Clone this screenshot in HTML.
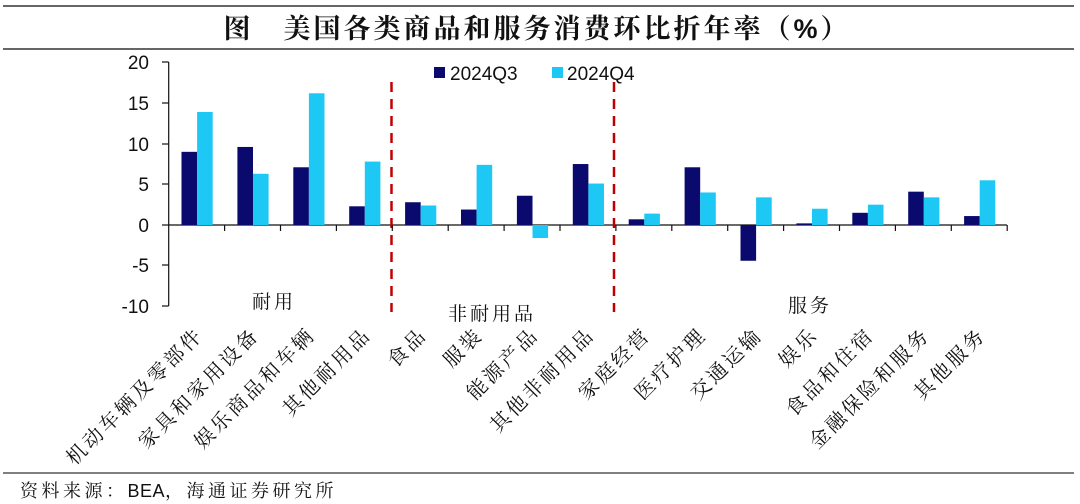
<!DOCTYPE html>
<html><head><meta charset="utf-8"><style>
html,body{margin:0;padding:0;background:#fff;width:1080px;height:504px;overflow:hidden}
svg{display:block}
.s{font-family:"Liberation Sans",sans-serif}
.c{font-family:"Noto Serif CJK SC","Liberation Serif",serif}
</style></head><body>
<svg width="1080" height="504" viewBox="0 0 1080 504">
<line x1="3" y1="6" x2="1074" y2="6" stroke="#333" stroke-width="1.5"/>
<line x1="3" y1="49" x2="1074" y2="49" stroke="#333" stroke-width="1.5"/>
<text x="537" y="38" text-anchor="middle" class="c" font-size="27" font-weight="bold" letter-spacing="3" fill="#111">图　美国各类商品和服务消费环比折年率（<tspan class="s">%</tspan>）</text>
<g class="s" font-size="19" fill="#111" text-anchor="end">
<text x="149" y="69">20</text><text x="149" y="110">15</text><text x="149" y="151">10</text>
<text x="149" y="191">5</text><text x="149" y="232">0</text><text x="149" y="272">-5</text><text x="149" y="313">-10</text>
</g>
<g stroke="#111" stroke-width="1.2">
<line x1="168.7" y1="62" x2="168.7" y2="306"/>
<line x1="162" y1="62" x2="168.7" y2="62"/><line x1="162" y1="103" x2="168.7" y2="103"/>
<line x1="162" y1="144" x2="168.7" y2="144"/><line x1="162" y1="184" x2="168.7" y2="184"/>
<line x1="162" y1="225" x2="168.7" y2="225"/><line x1="162" y1="265" x2="168.7" y2="265"/>
<line x1="162" y1="306" x2="168.7" y2="306"/>
<line x1="168.7" y1="225" x2="1007" y2="225"/>
</g>
<g id="bars"></g>
<g stroke="#c00000" stroke-width="2.5" stroke-dasharray="10,7">
<line x1="391.5" y1="82" x2="391.5" y2="312"/>
<line x1="614" y1="82" x2="614" y2="312"/>
</g>
<rect x="434" y="67" width="11" height="11" fill="#0a0a6e"/>
<text x="450" y="80" class="s" font-size="19" fill="#111">2024Q3</text>
<rect x="552" y="67" width="11" height="11" fill="#1ec8f5"/>
<text x="567" y="80" class="s" font-size="19" fill="#111">2024Q4</text>
<g class="c" font-size="19" letter-spacing="3" fill="#111" text-anchor="middle">
<text x="274" y="308">耐用</text>
<text x="492" y="320">非耐用品</text>
<text x="810" y="312">服务</text>
</g>
<g id="labels" class="c" font-size="20" letter-spacing="3" fill="#111" text-anchor="end"></g>
<line x1="3" y1="473" x2="1074" y2="473" stroke="#333" stroke-width="1.2"/>
<text x="20" y="497" class="c" font-size="18" letter-spacing="3.5" fill="#111">资料来源：<tspan class="s" letter-spacing="0.5">BEA</tspan>，海通证券研究所</text>
</svg>
<script>
var q3=[9.0,9.6,7.1,2.3,2.8,1.9,3.6,7.5,0.7,7.1,-4.4,0.2,1.5,4.1,1.1];
var q4=[13.9,6.3,16.2,7.8,2.4,7.4,-1.6,5.1,1.4,4.0,3.4,2.0,2.5,3.4,5.5];
var names=["机动车辆及零部件","家具和家用设备","娱乐商品和车辆","其他耐用品","食品","服装","能源产品","其他非耐用品","家庭经营","医疗护理","交通运输","娱乐","食品和住宿","金融保险和服务","其他服务"];
var ns="http://www.w3.org/2000/svg",b=document.getElementById("bars"),L=document.getElementById("labels"),ax=document.querySelector("svg");
var x0=168.7,w=55.9,u=8.13,z=225;
function r(x,v,c){var e=document.createElementNS(ns,"rect");var h=Math.abs(v)*u;e.setAttribute("x",x);e.setAttribute("width",15.6);e.setAttribute("y",v>=0?z-h:z);e.setAttribute("height",Math.max(h,0.8));e.setAttribute("fill",c);b.appendChild(e);}
for(var i=0;i<15;i++){var s=x0+i*w;r(s+12.8,q3[i],"#0a0a6e");r(s+28.4,q4[i],"#1ec8f5");
var t=document.createElementNS(ns,"line");var tx=x0+(i+1)*w;t.setAttribute("x1",tx);t.setAttribute("x2",tx);t.setAttribute("y1",225);t.setAttribute("y2",231);t.setAttribute("stroke","#111");t.setAttribute("stroke-width","1.2");ax.appendChild(t);
var cx=s+w/2+8,cy=336;var tt=document.createElementNS(ns,"text");tt.setAttribute("x",cx);tt.setAttribute("y",cy);tt.setAttribute("transform","rotate(-45 "+cx+" "+cy+")");tt.textContent=names[i];L.appendChild(tt);}
</script>
</body></html>
